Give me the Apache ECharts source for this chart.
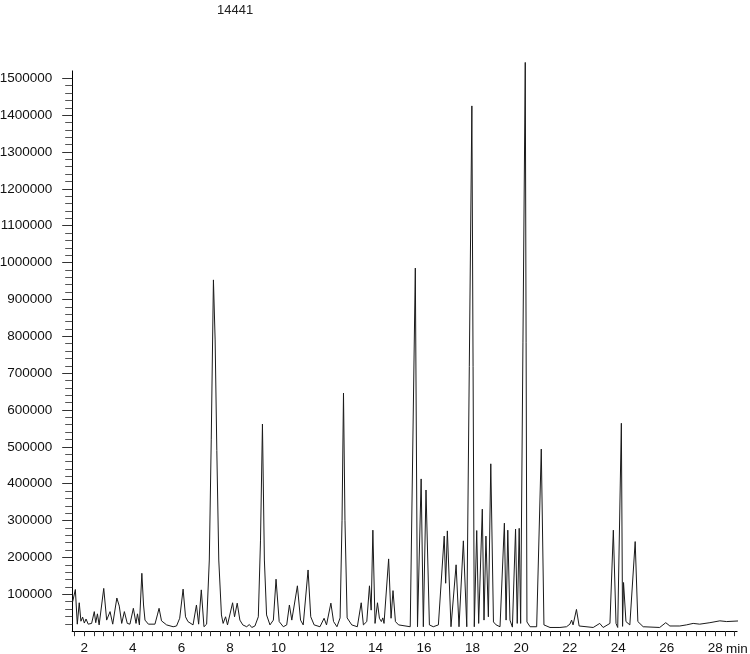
<!DOCTYPE html>
<html>
<head>
<meta charset="utf-8">
<script src="https://cdn.jsdelivr.net/npm/echarts@6/dist/echarts.min.js"></script>
<style>
html,body{margin:0;padding:0;background:#fff;}
#chart{width:750px;height:654px;}
</style>
</head>
<body>
<div id="chart"></div>
<script>
// Chromatogram vertices: retention time (min) and intensity
const timesA = [1.52,1.63,1.71,1.79,1.86,1.93,2.00,2.07,2.16,2.30,2.41,2.47,2.54,2.61,2.80,2.92,3.06,3.17,3.34,3.44,3.54,3.65,3.77,3.88,4.02,4.13,4.19,4.27,4.37,4.44,4.50,4.64,4.91,5.01,5.08,5.18,5.39,5.66,5.80,5.93,6.07,6.17,6.27,6.48,6.62,6.71,6.82,6.93];
const valuesA = [80000,113000,19000,77000,27000,38000,22000,33000,19000,21000,53000,23000,47000,17000,116000,30000,53000,19000,90000,68000,21000,53000,21000,19000,62000,21000,47000,17000,157000,71000,30000,19000,19000,44000,62000,28000,17000,12000,14000,35000,114000,39000,26000,17000,71000,19000,112000,12000];

const timesB = [7.04,7.15,7.23,7.32,7.39,7.46,7.54,7.65,7.72,7.82,7.90,8.11,8.19,8.30,8.41,8.53,8.69,8.80,8.90,9.03,9.17,9.26,9.34,9.42,9.51,9.65,9.79,9.90,10.03,10.20,10.34,10.45,10.55,10.78,10.91,11.02,11.22,11.33,11.47,11.71,11.88,11.98,12.16,12.27,12.41,12.54,12.62,12.68,12.74,12.83,13.02];
const valuesB = [19000,193000,519000,953000,790000,490000,193000,44000,21000,39000,17000,77000,39000,76000,30000,17000,12000,18000,10000,14000,39000,247000,562000,193000,44000,17000,30000,141000,26000,12000,17000,71000,30000,123000,30000,17000,166000,39000,17000,12000,35000,17000,76000,26000,12000,36000,301000,646000,301000,36000,17000];

const timesC = [13.25,13.41,13.50,13.64,13.75,13.82,13.89,13.98,14.08,14.16,14.24,14.30,14.35,14.54,14.64,14.72,14.82,14.95,15.43,15.64,15.73,15.88,15.97,16.08,16.22,16.38,16.59,16.83,16.89,16.96,17.11,17.32,17.44,17.62,17.76,17.97,18.07];
const valuesC = [12000,77000,17000,26000,123000,57000,274000,21000,77000,35000,26000,36000,21000,196000,35000,110000,26000,17000,12000,985000,12000,413000,12000,383000,17000,12000,17000,258000,130000,272000,12000,180000,12000,245000,12000,1425000,12000];

const timesD = [18.17,18.25,18.40,18.47,18.55,18.65,18.75,18.86,18.97,19.13,19.31,19.38,19.45,19.54,19.64,19.77,19.84,19.92,19.98,20.17,20.24,20.37,20.64,20.83,20.94];
const valuesD = [273000,21000,331000,30000,258000,39000,454000,25000,17000,12000,293000,30000,274000,30000,11000,277000,21000,279000,21000,1543000,25000,12000,12000,494000,17000];

const timesE = [21.19,21.60,21.87,22.01,22.08,22.14,22.28,22.39,22.97,23.24,23.38,23.66,23.80,23.91,23.98,24.13,24.18,24.22,24.32,24.48,24.70,24.81,25.03,25.71,25.96,26.13,26.54,26.81,27.09,27.36,27.78,28.19,28.47,29.05];
const valuesE = [10000,10000,12000,19000,30000,17000,59000,14000,10000,21000,10000,21000,274000,21000,10000,564000,13000,132000,26000,17000,243000,26000,12000,10000,23000,14000,14000,17000,21000,19000,23000,28000,26000,28000];

const xLabelValues = [2,4,6,8,10,12,14,16,18,20,22,24,26,28];
const yLabelValues = [100000,200000,300000,400000,500000,600000,700000,800000,900000,1000000,1100000,1200000,1300000,1400000,1500000];
const titleText = '14441';
const xUnitText = 'min';

const xTickValues = [];
for (let i = 4; i <= 72; i++) xTickValues.push(Math.round(i * 0.4 * 10) / 10);
const yMinorTicks = [];
for (let v = 20000; v <= 1500000; v += 20000) if (v % 100000 !== 0) yMinorTicks.push(v);

const times = timesA.concat(timesB, timesC, timesD, timesE);
const values = valuesA.concat(valuesB, valuesC, valuesD, valuesE);
const data = times.map((t, i) => [t, values[i]]);

const FONT = '"Liberation Sans", Arial, sans-serif';
const chart = echarts.init(document.getElementById('chart'), null, {renderer: 'canvas'});
chart.setOption({
  animation: false,
  backgroundColor: '#fff',
  title: {
    text: titleText, left: 212, top: -1,
    textStyle: {fontFamily: FONT, fontSize: 13, fontWeight: 'normal', color: '#222'}
  },
  graphic: [{
    type: 'text', left: 726, top: 642,
    style: {text: xUnitText, font: '13.5px "Liberation Sans", Arial, sans-serif', fill: '#111'}
  }],
  grid: {left: 72.2, right: 12.9, top: 70.9, bottom: 22.84, containLabel: false, outerBoundsMode: 'none'},
  xAxis: {
    type: 'value', min: 1.5, max: 28.9,
    axisLine: {show: true, lineStyle: {color: '#000', width: 1}},
    axisTick: {show: true, customValues: xTickValues, length: 5, lineStyle: {color: '#333'}},
    axisLabel: {show: true, customValues: xLabelValues, margin: 10, fontFamily: FONT, fontSize: 13.5, color: '#111',
      formatter: v => String(v)},
    splitLine: {show: false}
  },
  yAxis: [{
    type: 'value', min: 0, max: 1520000, position: 'left',
    axisLine: {show: true, lineStyle: {color: '#000', width: 1}},
    axisTick: {show: true, customValues: yLabelValues, length: 10, lineStyle: {color: '#333'}},
    axisLabel: {show: true, customValues: yLabelValues, margin: 20, fontFamily: FONT, fontSize: 13.5, color: '#111',
      formatter: v => String(v)},
    splitLine: {show: false}
  }, {
    type: 'value', min: 0, max: 1520000, position: 'left',
    axisLine: {show: false},
    axisTick: {show: true, customValues: yMinorTicks, length: 7, lineStyle: {color: '#555'}},
    axisLabel: {show: false},
    splitLine: {show: false}
  }],
  series: [{
    type: 'line', data: data, xAxisIndex: 0, yAxisIndex: 0,
    showSymbol: false, symbol: 'none', smooth: false, clip: false,
    lineStyle: {color: '#1a1a1a', width: 1},
    silent: true
  }]
});
</script>
</body>
</html>
